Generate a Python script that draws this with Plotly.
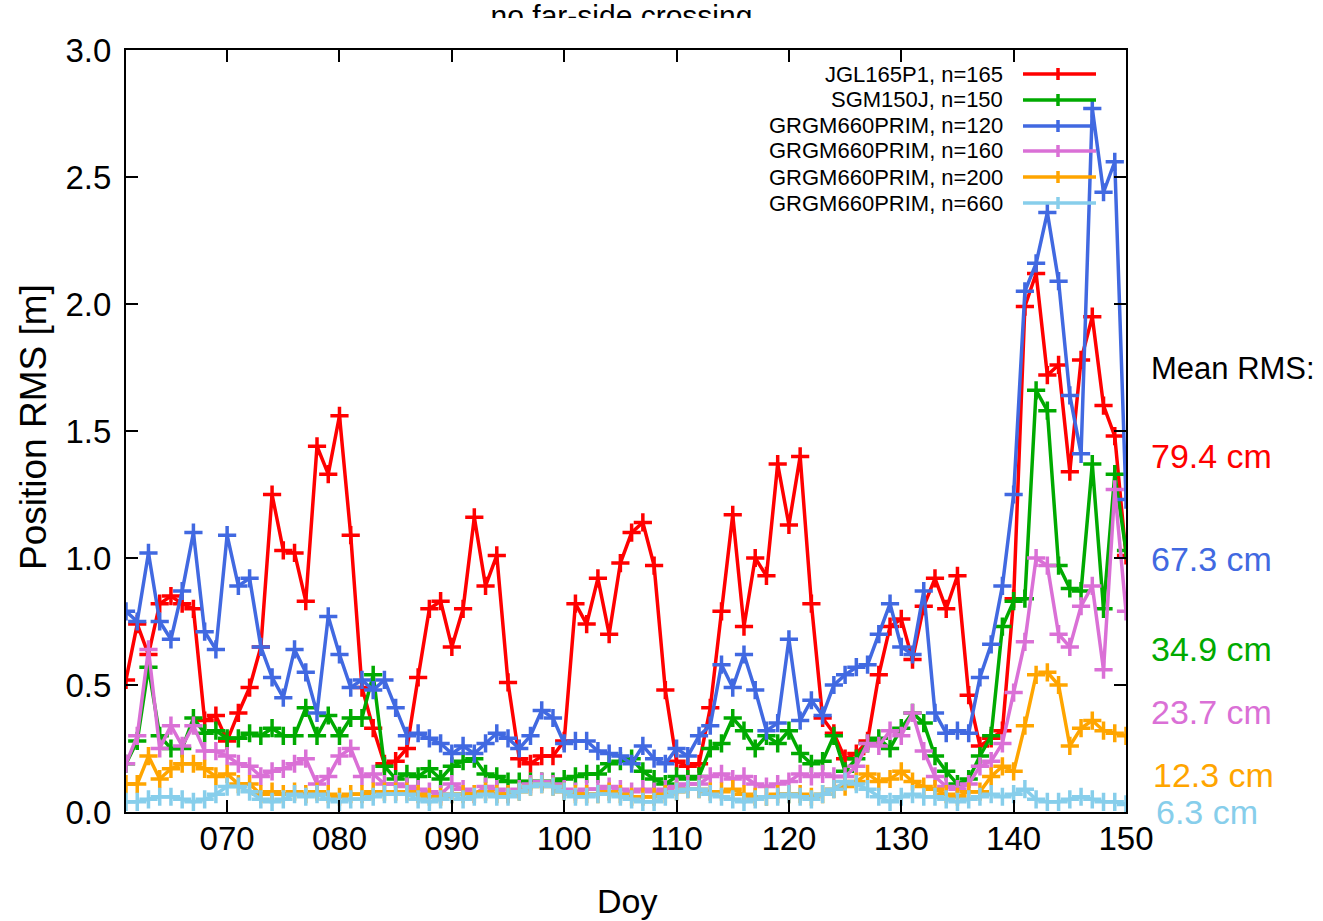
import plotly.graph_objects as go

# ---------------- data ----------------
days = list(range(61, 151))

jgl165p1_n165 = [0.52, 0.74, 0.62, 0.82, 0.85, 0.82, 0.80, 0.36, 0.38, 0.28,
                 0.39, 0.49, 0.65, 1.25, 1.03, 1.02, 0.83, 1.44, 1.33, 1.56,
                 1.09, 0.49, 0.33, 0.19, 0.20, 0.25, 0.53, 0.80, 0.83, 0.65,
                 0.80, 1.16, 0.89, 1.01, 0.51, 0.21, 0.19, 0.22, 0.22, 0.28,
                 0.82, 0.74, 0.92, 0.70, 0.98, 1.10, 1.14, 0.97, 0.48, 0.20,
                 0.18, 0.19, 0.41, 0.79, 1.17, 0.73, 1.00, 0.93, 1.37, 1.13,
                 1.40, 0.82, 0.37, 0.31, 0.21, 0.23, 0.28, 0.54, 0.73, 0.76,
                 0.60, 0.81, 0.92, 0.80, 0.93, 0.46, 0.26, 0.29, 0.32, 0.84,
                 1.99, 2.12, 1.72, 1.76, 1.34, 1.78, 1.95, 1.60, 1.48, 1.01]

sgm150j_n150 = [0.19, 0.28, 0.57, 0.30, 0.25, 0.25, 0.37, 0.31, 0.32, 0.29,
                0.29, 0.31, 0.30, 0.33, 0.30, 0.30, 0.41, 0.30, 0.38, 0.30,
                0.37, 0.37, 0.54, 0.18, 0.13, 0.15, 0.14, 0.17, 0.13, 0.18,
                0.20, 0.21, 0.15, 0.14, 0.12, 0.12, 0.12, 0.12, 0.12, 0.13,
                0.14, 0.15, 0.15, 0.19, 0.20, 0.21, 0.16, 0.13, 0.11, 0.14,
                0.13, 0.14, 0.25, 0.27, 0.37, 0.32, 0.25, 0.30, 0.27, 0.32,
                0.23, 0.19, 0.20, 0.30, 0.16, 0.21, 0.27, 0.29, 0.25, 0.33,
                0.39, 0.35, 0.22, 0.16, 0.11, 0.13, 0.22, 0.30, 0.73, 0.83,
                0.84, 1.66, 1.58, 0.97, 0.88, 0.87, 1.37, 0.80, 1.33, 1.03]

grgm660_n120 = [0.79, 0.75, 1.02, 0.75, 0.68, 0.87, 1.10, 0.71, 0.64, 1.09,
                0.89, 0.92, 0.65, 0.53, 0.45, 0.64, 0.55, 0.39, 0.77, 0.62,
                0.49, 0.52, 0.48, 0.52, 0.41, 0.30, 0.31, 0.29, 0.27, 0.23,
                0.26, 0.23, 0.27, 0.31, 0.29, 0.25, 0.30, 0.40, 0.37, 0.27,
                0.28, 0.28, 0.24, 0.23, 0.22, 0.19, 0.26, 0.21, 0.19, 0.25,
                0.22, 0.30, 0.34, 0.58, 0.49, 0.62, 0.48, 0.32, 0.35, 0.68,
                0.36, 0.44, 0.38, 0.50, 0.54, 0.57, 0.58, 0.70, 0.82, 0.65,
                0.62, 0.87, 0.39, 0.31, 0.32, 0.31, 0.53, 0.66, 0.89, 1.25,
                2.05, 2.16, 2.36, 2.09, 1.64, 1.41, 2.77, 2.44, 2.56, 1.23]

grgm660_n160 = [0.19, 0.30, 0.64, 0.25, 0.34, 0.26, 0.34, 0.24, 0.24, 0.22,
                0.19, 0.18, 0.14, 0.16, 0.17, 0.19, 0.21, 0.11, 0.14, 0.22,
                0.25, 0.14, 0.15, 0.11, 0.11, 0.10, 0.09, 0.08, 0.07, 0.11,
                0.09, 0.07, 0.10, 0.09, 0.07, 0.09, 0.11, 0.12, 0.11, 0.09,
                0.08, 0.09, 0.09, 0.10, 0.09, 0.08, 0.09, 0.08, 0.09, 0.10,
                0.11, 0.11, 0.14, 0.15, 0.13, 0.14, 0.11, 0.10, 0.11, 0.12,
                0.15, 0.14, 0.15, 0.14, 0.14, 0.18, 0.27, 0.26, 0.32, 0.30,
                0.39, 0.24, 0.14, 0.10, 0.09, 0.11, 0.18, 0.20, 0.27, 0.47,
                0.67, 1.00, 0.97, 0.70, 0.65, 0.81, 0.89, 0.56, 1.27, 0.79]

grgm660_n200 = [0.11, 0.11, 0.22, 0.13, 0.17, 0.19, 0.19, 0.17, 0.14, 0.15,
                0.11, 0.11, 0.07, 0.08, 0.07, 0.08, 0.07, 0.08, 0.07, 0.06,
                0.07, 0.07, 0.08, 0.08, 0.08, 0.08, 0.07, 0.06, 0.06, 0.07,
                0.07, 0.07, 0.08, 0.07, 0.07, 0.08, 0.10, 0.11, 0.10, 0.08,
                0.07, 0.07, 0.07, 0.08, 0.07, 0.06, 0.06, 0.06, 0.07, 0.08,
                0.09, 0.09, 0.08, 0.08, 0.09, 0.07, 0.06, 0.06, 0.07, 0.07,
                0.07, 0.06, 0.07, 0.09, 0.10, 0.12, 0.15, 0.12, 0.13, 0.16,
                0.12, 0.10, 0.09, 0.07, 0.06, 0.08, 0.08, 0.14, 0.18, 0.16,
                0.34, 0.54, 0.55, 0.50, 0.26, 0.33, 0.36, 0.32, 0.31, 0.30]

grgm660_n660 = [0.04, 0.04, 0.05, 0.06, 0.06, 0.05, 0.04, 0.05, 0.07, 0.10,
                0.10, 0.08, 0.05, 0.04, 0.05, 0.07, 0.06, 0.07, 0.05, 0.04,
                0.05, 0.05, 0.06, 0.07, 0.07, 0.07, 0.05, 0.04, 0.05, 0.07,
                0.05, 0.06, 0.07, 0.06, 0.06, 0.08, 0.10, 0.11, 0.10, 0.08,
                0.06, 0.06, 0.07, 0.07, 0.06, 0.05, 0.04, 0.04, 0.06, 0.08,
                0.09, 0.09, 0.07, 0.06, 0.05, 0.04, 0.05, 0.06, 0.06, 0.07,
                0.06, 0.05, 0.07, 0.09, 0.12, 0.11, 0.09, 0.06, 0.04, 0.06,
                0.07, 0.06, 0.06, 0.05, 0.04, 0.05, 0.06, 0.07, 0.06, 0.07,
                0.09, 0.05, 0.04, 0.04, 0.05, 0.06, 0.05, 0.04, 0.04, 0.03]

series_names = ["JGL165P1, n=165", "SGM150J, n=150", "GRGM660PRIM, n=120",
                "GRGM660PRIM, n=160", "GRGM660PRIM, n=200", "GRGM660PRIM, n=660"]
series_values = [jgl165p1_n165, sgm150j_n150, grgm660_n120,
                 grgm660_n160, grgm660_n200, grgm660_n660]
series_colors = ["#FF0000", "#00AA00", "#4169E1", "#DA70D6", "#FFA500", "#87CEEB"]

mean_rms_labels = ["79.4 cm", "67.3 cm", "34.9 cm", "23.7 cm", "12.3 cm", "6.3 cm"]
mean_rms_colors = ["#FF0000", "#4169E1", "#00AA00", "#DA70D6", "#FFA500", "#87CEEB"]

x_tick_vals = [70, 80, 90, 100, 110, 120, 130, 140, 150]
x_tick_text = ["070", "080", "090", "100", "110", "120", "130", "140", "150"]
y_tick_vals = [0.0, 0.5, 1.0, 1.5, 2.0, 2.5, 3.0]

title_text = "no far-side crossing"

# ---------------- layout geometry ----------------
W, H = 1323, 921
ML, MR, MT, MB = 126, 197, 0, 109
PW = W - ML - MR          # 1000
PH = H - MT - MB          # 812
PLOT_TOP = 50
FONT = "Liberation Sans, Arial, Helvetica, sans-serif"


def px_x(px):
    return (px - ML) / PW


def px_y(py):
    return (PH - py) / PH


fig = go.Figure()

for name, vals, col in zip(series_names, series_values, series_colors):
    fig.add_trace(go.Scatter(
        x=days, y=vals, name=name, mode="lines+markers",
        line=dict(color=col, width=3.5),
        marker=dict(symbol="cross-thin", size=13, line=dict(width=3.5, color=col), color=col),
        showlegend=False, cliponaxis=True,
    ))

# title, clipped at its lower part like the reference
fig.add_trace(go.Scatter(
    x=[0.4955], y=[0.0], mode="text", text=[title_text],
    textposition="middle center",
    textfont=dict(size=30, color="black", family=FONT),
    xaxis="x2", yaxis="y2", showlegend=False, hoverinfo="skip", cliponaxis=True,
))

axis_common = dict(
    showline=True, linecolor="black", linewidth=2, mirror="ticks",
    ticks="inside", ticklen=12, tickwidth=1.5, tickcolor="black",
    showgrid=False, zeroline=False, automargin=False,
    tickfont=dict(size=33, color="black", family=FONT),
)

fig.update_layout(
    width=W, height=H,
    margin=dict(l=ML, r=MR, t=MT, b=MB, pad=0, autoexpand=False),
    showlegend=False,
    paper_bgcolor="white", plot_bgcolor="white",
    font=dict(family=FONT, color="black"),
    xaxis=dict(range=[61, 150], tickvals=x_tick_vals, ticktext=x_tick_text,
               domain=[0, 1], anchor="y", ticklabelstandoff=-4, **axis_common),
    yaxis=dict(range=[0, 3.0], tickvals=y_tick_vals, tickformat=".1f",
               domain=[0, px_y(PLOT_TOP)], anchor="x", ticklabelstandoff=6,
               **axis_common),
    xaxis2=dict(domain=[0, 1], range=[0, 1], visible=False, anchor="y2"),
    yaxis2=dict(domain=[px_y(18), 1], range=[0, 1], visible=False, anchor="x2"),
)

annotations = []
shapes = []

# axis titles
annotations.append(dict(text="Doy", x=px_x(627), y=px_y(901), xref="paper", yref="paper",
                        showarrow=False, xanchor="center", yanchor="middle",
                        font=dict(size=34, color="black", family=FONT)))
annotations.append(dict(text="Position RMS [m]", x=px_x(33), y=px_y(427), xref="paper",
                        yref="paper", showarrow=False, textangle=-90,
                        xanchor="center", yanchor="middle",
                        font=dict(size=37, color="black", family=FONT)))

# manual gnuplot-style key (text on the left, sample on the right)
key_rows = [74, 100, 126, 151, 177, 203]
for name, col, py in zip(series_names, series_colors, key_rows):
    annotations.append(dict(text=name, x=px_x(1005), y=px_y(py), xref="paper", yref="paper",
                            showarrow=False, xanchor="right", yanchor="middle",
                            font=dict(size=22, color="black", family=FONT)))
    shapes.append(dict(type="line", xref="paper", yref="paper",
                       x0=px_x(1023), x1=px_x(1096), y0=px_y(py), y1=px_y(py),
                       line=dict(color=col, width=3.5)))
    shapes.append(dict(type="line", xref="paper", yref="paper",
                       x0=px_x(1058), x1=px_x(1058), y0=px_y(py - 6), y1=px_y(py + 6),
                       line=dict(color=col, width=3.5)))

# mean RMS labels on the right
annotations.append(dict(text="Mean RMS:", x=px_x(1149), y=px_y(368), xref="paper", yref="paper",
                        showarrow=False, xanchor="left", yanchor="middle",
                        font=dict(size=31, color="black", family=FONT)))
label_rows = [456, 559, 649, 712, 775, 812]
label_x = [1149, 1149, 1149, 1149, 1151, 1154]
for txt, col, py, lx in zip(mean_rms_labels, mean_rms_colors, label_rows, label_x):
    annotations.append(dict(text=txt, x=px_x(lx), y=px_y(py), xref="paper", yref="paper",
                            showarrow=False, xanchor="left", yanchor="middle",
                            font=dict(size=34, color=col, family=FONT)))

fig.update_layout(annotations=annotations, shapes=shapes)

fig.write_html("out.html")
